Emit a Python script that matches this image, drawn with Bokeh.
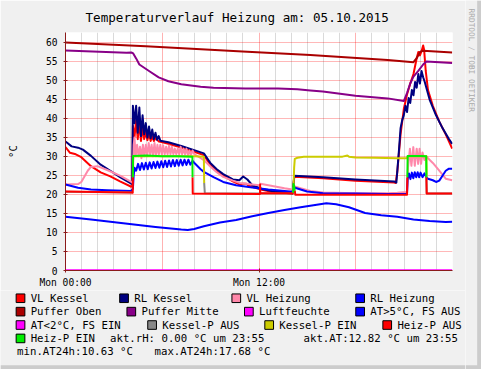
import math
from bokeh.plotting import figure
from bokeh.layouts import column, row
from bokeh.models import Range1d, FixedTicker
from bokeh.core.properties import value
from bokeh.embed import file_html
from bokeh.resources import INLINE

NaN = float("nan")

# ---------------- data: hours since Mon 00:00, values in °C ----------------
vl_kessel_h = [0.00, 0.28, 0.58, 0.98, 1.58, 2.18, 2.78, 3.38, 4.08, 4.14, 4.18, 4.28, 4.38, 4.48, 4.58,
               4.68, 4.78, 4.88, 4.98, 5.08, 5.18, 5.28, 5.38, 5.48, 5.58, 5.78, 5.88, 6.38, 7.18, 7.98,
               8.58, 8.98, 9.38, 9.78, 10.38, 10.78, 10.98, 11.22, 11.34, 11.58, 12.18, 12.78, 13.58,
               14.08, 14.19, 15.98, 17.98, 20.38, 20.48, 20.58, 20.78, 20.98, 21.18, 21.38, 21.58, 21.78,
               21.88, 21.98, 22.08, 22.18, 22.24, 22.34, 22.48, 22.78, 23.18, 23.58, 23.98]
vl_kessel_v = [32.4, 30.9, 30.6, 29.75, 27.4, 25.75, 24.7, 23.4, 22.0, 22.3, 38.0, 35.0, 39.5, 34.5, 39.0,
               34.0, 37.5, 34.5, 36.5, 34.2, 36.0, 34.0, 35.2, 34.0, 34.8, 33.9, 33.8, 33.3, 32.3, 31.2,
               30.3, 27.8, 26.0, 24.9, 23.4, 22.6, 22.8, 22.8, 22.3, 22.0, 21.2, 20.7, 20.4,
               20.1, 24.6, 24.2, 23.6, 23.1, 23.0, 26.0, 35.75, 42.4, 46.2, 49.1, 51.6, 55.75,
               57.4, 56.5, 57.6, 59.1, 58.0, 52.4, 47.4, 43.25, 39.1, 35.75, 32.0]

rl_kessel_h = [0.00, 0.38, 0.78, 1.08, 1.58, 2.18, 2.78, 3.38, 4.08, 4.14, 4.18, 4.28, 4.38, 4.48, 4.58,
               4.68, 4.78, 4.88, 4.98, 5.08, 5.18, 5.28, 5.38, 5.48, 5.58, 5.68, 5.78, 5.88, 6.38, 7.18,
               7.98, 8.58, 8.98, 9.38, 9.78, 10.38, 10.78, 11.02, 11.28, 11.58, 12.18, 12.78, 13.58,
               14.08, 14.19, 15.98, 17.98, 20.38, 20.52, 20.68, 20.78, 20.88, 20.98, 21.08, 21.18,
               21.28, 21.38, 21.48, 21.58, 21.68, 21.78, 21.88, 21.98, 22.08, 22.18, 22.28, 22.58,
               22.98, 23.38, 23.78, 23.98]
rl_kessel_v = [33.9, 32.6, 32.25, 31.75, 30.1, 27.8, 26.2, 24.5, 22.8, 23.5, 43.25, 38.7, 43.25, 36.2, 42.8,
               35.3, 40.75, 35.75, 38.7, 34.9, 37.8, 34.7, 37.0, 34.5, 36.2, 34.3, 35.3, 34.1, 33.7, 32.7,
               31.6, 30.75, 28.25, 26.6, 25.3, 23.9, 23.7, 24.7, 23.9, 22.4, 21.4, 20.9, 20.6,
               20.3, 24.9, 24.5, 23.9, 23.4, 23.1, 31.6, 37.4, 39.5, 40.75, 43.25, 41.6,
               45.3, 44.0, 47.4, 46.0, 49.5, 48.0, 51.6, 49.1, 52.4, 50.75, 49.5, 44.9,
               40.75, 37.4, 34.5, 33.25]

vl_heizung_h = [0.00, 0.78, 0.98, 1.38, 1.58, 1.98, 2.58, 3.38, 4.08, 4.17, 4.23, 4.28, 4.35, 4.44, 4.53,
                4.62, 4.71, 4.80, 4.89, 4.98, 5.07, 5.16, 5.25, 5.34, 5.43, 5.52, 5.61, 5.70, 5.79, 5.88,
                5.97, 6.06, 6.15, 6.24, 6.33, 6.42, 6.51, 6.60, 6.69, 6.78, 6.87, 6.96, 7.05, 7.14, 7.23,
                7.32, 7.41, 7.50, 7.59, 7.68, 7.77, 7.88, 7.98, 8.58, 8.98, 9.38, 9.78, 10.38, 10.78,
                11.58, 12.06, 12.09, 12.58, 13.58, 14.16, 14.22, 14.58, 15.18, 15.98, 17.98, 19.98,
                20.58, 21.18, 21.24, 21.36, 21.45, 21.57, 21.66, 21.78, 21.87, 21.96, 22.05, 22.14,
                22.26, 22.38, 22.48, 22.78, 23.18, 23.58, 23.98]
vl_heizung_v = [22.6, 22.7, 23.25, 26.2, 27.2, 27.4, 26.4, 24.9, 23.25, 23.0, 33.0, 34.9, 30.0, 33.0, 30.0,
                32.5, 29.5, 33.0, 30.0, 33.0, 30.0, 33.5, 30.5, 33.0, 30.0, 33.5, 30.0, 33.0, 30.5, 33.0,
                30.5, 32.8, 30.5, 32.5, 30.5, 32.8, 30.5, 32.5, 30.5, 32.0, 30.5, 32.0, 30.5, 32.5, 30.5,
                32.0, 30.5, 32.0, 30.3, 31.5, 30.3, 31.5, 30.6, 29.0, 27.3, 25.8, 24.6, 23.6, 23.0,
                22.6, 22.4, 22.8, 22.4, 21.6, 21.2, 22.1, 21.6, 20.9, 20.5, 20.3, 20.3,
                20.4, 20.6, 27.0, 32.0, 27.5, 32.4, 27.5, 32.0, 28.0, 32.0, 28.0, 31.0,
                29.0, 30.0, 29.5, 28.25, 26.2, 24.1, 23.7]

rl_heizung_h = [0.00, 0.78, 1.58, 2.58, 4.08, 4.18, 4.23, 4.28, 4.38, 4.50, 4.62, 4.74, 4.86, 4.98, 5.10,
                5.22, 5.34, 5.46, 5.58, 5.70, 5.82, 5.94, 6.06, 6.18, 6.30, 6.42, 6.54, 6.66, 6.78, 6.90,
                7.02, 7.14, 7.26, 7.38, 7.50, 7.62, 7.74, 7.88, 7.98, 8.38, 8.58, 9.18, 9.78, 10.58,
                11.58, 12.58, 13.58, 14.10, 14.18, 14.98, 15.98, 17.98, 19.98, 21.18, 21.22, 21.30,
                21.39, 21.48, 21.57, 21.66, 21.75, 21.84, 21.93, 22.02, 22.14, 22.26, 22.38, 22.48,
                22.78, 22.98, 23.18, 23.38, 23.58, 23.78, 23.98]
rl_heizung_v = [22.6, 21.75, 21.3, 21.1, 20.9, 21.5, 25.0, 27.0, 26.2, 28.0, 26.4, 28.2, 26.5, 28.3, 26.6,
                28.4, 26.8, 28.5, 26.9, 28.6, 27.0, 28.7, 27.1, 28.8, 27.2, 28.9, 27.3, 29.0, 27.4, 29.0,
                27.5, 29.1, 27.6, 29.1, 27.7, 29.1, 27.8, 28.8, 28.3, 26.6, 25.9, 24.5, 23.25, 22.4,
                21.8, 21.3, 20.9, 20.7, 21.8, 20.75, 20.3, 20.2, 20.1, 20.1, 24.1, 25.5,
                24.0, 25.7, 24.2, 25.8, 24.5, 25.8, 24.5, 25.7, 24.5, 25.5, 24.5, 24.1,
                23.7, 23.25, 23.6, 24.9, 26.2, 26.75, 26.75]

puffer_oben_h = [0.00, 4.98, 10.98, 15.18, 19.98, 21.58, 21.78, 21.98, 22.18, 23.98]
puffer_oben_v = [59.9, 58.9, 57.5, 56.6, 55.3, 54.7, 55.75, 57.4, 57.7, 57.25]

puffer_mitte_h = [0.00, 3.78, 4.08, 4.20, 4.38, 4.58, 5.18, 5.78, 6.38, 7.18, 8.38, 9.18, 11.16, 13.18,
                  14.38, 15.18, 15.96, 17.98, 19.98, 20.98, 21.18, 21.38, 21.58, 21.88, 22.18, 22.38, 23.98]
puffer_mitte_v = [57.8, 57.2, 57.25, 57.0, 55.7, 54.1, 52.4, 50.7, 49.7, 48.9, 48.25, 48.0, 47.8, 47.8,
                  47.6, 47.3, 47.0, 45.9, 45.2, 44.5, 46.6, 49.1, 50.9, 52.4, 54.1, 54.9, 54.5]

luftfeuchte_h = [0.00, 23.98]
luftfeuchte_v = [0.0, 0.0]

at_h = [0.00, 1.58, 3.58, 5.58, 7.18, 7.58, 7.98, 8.58, 9.58, 10.58, 11.58, 12.58, 13.58, 14.58, 15.58,
        16.18, 16.78, 17.58, 18.58, 19.58, 20.58, 21.58, 22.58, 23.58, 23.98]
at_v = [14.1, 13.4, 12.4, 11.4, 10.75, 10.63, 10.9, 11.6, 12.6, 13.25, 14.25, 15.1, 15.9, 16.6, 17.25,
        17.68, 17.4, 16.6, 15.1, 14.5, 14.1, 13.4, 13.0, 12.75, 12.82]

at_kalt_h = [0.00, 23.98]
at_kalt_v = [0.0, 0.0]

kessel_p_aus_h = [0.00, 4.17, NaN, 8.60, 8.64, 14.10, 14.12, NaN, 22.38, 22.40, 23.98]
kessel_p_aus_v = [20.7, 20.5, NaN, 23.0, 20.3, 20.2, 22.0, NaN, 25.0, 20.2, 20.2]

kessel_p_ein_h = [4.18, 4.19, 6.00, 8.00, 8.58, 8.60, NaN, 14.14, 14.18, 14.22, 14.38, 14.78, 15.98,
                  17.18, 17.48, 17.58, 17.98, 19.18, 20.58, 21.18, 21.22, 22.00, 22.38, 22.40]
kessel_p_ein_v = [24.5, 30.0, 30.0, 30.0, 29.9, 23.0, NaN, 22.0, 27.0, 29.3, 29.6, 29.9, 29.9,
                  29.9, 30.2, 29.9, 29.7, 29.6, 29.5, 29.5, 30.0, 30.0, 30.0, 25.0]

heiz_p_aus_h = [0.00, 4.08, 4.17, 4.18, NaN, 7.88, 7.89, 12.06, 12.07, 12.08, 14.10, 14.12, NaN,
                14.22, 14.25, 21.18, 21.20, NaN, 22.38, 22.40, 23.98]
heiz_p_aus_v = [20.75, 20.5, 20.4, 24.5, NaN, 24.5, 20.2, 20.1, 22.6, 20.3, 20.3, 20.4, NaN,
                21.0, 19.9, 19.9, 24.5, NaN, 24.5, 20.2, 20.2]

heiz_p_ein_h = [4.18, 4.19, 5.00, 6.00, 7.00, 7.87, 7.88, NaN, 14.12, 14.14, 14.18, 14.22, NaN,
                21.20, 21.22, 22.00, 22.37, 22.38]
heiz_p_ein_v = [24.5, 30.1, 30.2, 30.0, 30.0, 29.9, 24.5, NaN, 20.4, 22.7, 22.2, 21.0, NaN,
                24.5, 30.1, 30.1, 30.0, 24.5]

legend_names = ["VL Kessel", "RL Kessel", "VL Heizung", "RL Heizung",
                "Puffer Oben", "Puffer Mitte", "Luftfeuchte", "AT>5°C, FS AUS",
                "AT<2°C, FS EIN", "Kessel-P AUS", "Kessel-P EIN", "Heiz-P AUS",
                "Heiz-P EIN"]
legend_colors = ["#FF0000", "#000080", "#FF88AA", "#0000FF",
                 "#AA0000", "#880088", "#FF00FF", "#0000FF",
                 "#FF00FF", "#888888", "#CCCC00", "#FF0000",
                 "#00EE00"]
info_texts = ["akt.rH: 0.00 °C um 23:55", "akt.AT:12.82 °C um 23:55",
              "min.AT24h:10.63 °C", "max.AT24h:17.68 °C"]

x_tick_pos = [0, 12]
x_tick_labels = ["Mon 00:00", "Mon 12:00"]
y_ticks = [0, 5, 10, 15, 20, 25, 30, 35, 40, 45, 50, 55, 60]
title_text = "Temperaturverlauf Heizung am: 05.10.2015"
unit_text = "°C"
credit_text = "RRDTOOL / TOBI OETIKER"

series = [
    (vl_kessel_h, vl_kessel_v), (rl_kessel_h, rl_kessel_v),
    (vl_heizung_h, vl_heizung_v), (rl_heizung_h, rl_heizung_v),
    (puffer_oben_h, puffer_oben_v), (puffer_mitte_h, puffer_mitte_v),
    (luftfeuchte_h, luftfeuchte_v), (at_h, at_v), (at_kalt_h, at_kalt_v),
    (kessel_p_aus_h, kessel_p_aus_v), (kessel_p_ein_h, kessel_p_ein_v),
    (heiz_p_aus_h, heiz_p_aus_v), (heiz_p_ein_h, heiz_p_ein_v),
]

# ---------------- layout (reference 497x385 scaled into 481x369) ----------------
FONT = "DejaVu Sans Mono"
AX = "#8B1A1A"
BG = "#F0F0F0"
EDGE = "#CCCCCC"

p = figure(width=465, height=290, output_backend="svg", toolbar_location=None,
           x_range=Range1d(0, 24), y_range=Range1d(0, 62.5),
           min_border_left=65, min_border_right=13, min_border_top=32, min_border_bottom=19)
p.frame_align = False
p.border_fill_color = BG
p.background_fill_color = "#FFFFFF"
p.outline_line_color = None

p.title.text = title_text
p.title.align = "left"
p.title.offset = 20
p.title.standoff = 15
p.title.text_font = FONT
p.title.text_font_size = "12.6px"
p.title.text_font_style = "normal"
p.title.text_color = "#000000"

p.xgrid.ticker = FixedTicker(ticks=[0, 6, 12, 18, 24],
                             minor_ticks=[h for h in range(1, 24) if h % 6 != 0])
p.xgrid.grid_line_color = "#FF0000"
p.xgrid.grid_line_alpha = 0.3
p.xgrid.minor_grid_line_color = "#DADADA"
p.ygrid.ticker = FixedTicker(ticks=y_ticks)
p.ygrid.grid_line_color = "#FF0000"
p.ygrid.grid_line_alpha = 0.28

p.xaxis.ticker = FixedTicker(ticks=x_tick_pos)
p.xaxis.major_label_overrides = {t: s for t, s in zip(x_tick_pos, x_tick_labels)}
p.yaxis.ticker = FixedTicker(ticks=y_ticks)
p.yaxis.major_label_overrides = {t: str(t) for t in y_ticks}
for ax in (p.xaxis, p.yaxis):
    ax.axis_line_color = AX
    ax.major_tick_line_color = AX
    ax.minor_tick_line_color = None
    ax.major_tick_in = 2
    ax.major_tick_out = 2
    ax.major_label_text_font = FONT
    ax.major_label_text_font_size = "9.6px"
    ax.major_label_text_color = "#000000"
p.yaxis.major_label_standoff = 6
p.xaxis.major_label_standoff = 4
p.yaxis.axis_label = unit_text
p.yaxis.axis_label_text_font = FONT
p.yaxis.axis_label_text_font_size = "10.6px"
p.yaxis.axis_label_text_font_style = "normal"
p.yaxis.axis_label_text_color = "#000000"
p.yaxis.axis_label_standoff = 24

for (hs, vs), col in zip(series, legend_colors):
    p.line(hs, vs, line_color=col, line_width=2, line_join="round")

# ---------------- legend panel (coordinates in reference pixels) ----------------
leg = figure(width=465, height=79, output_backend="svg", toolbar_location=None,
             x_range=Range1d(-0.18, 480.4), y_range=Range1d(385.5, 302.9),
             x_axis_location=None, y_axis_location=None,
             min_border_left=0, min_border_right=0, min_border_top=0, min_border_bottom=0)
leg.frame_align = False
leg.grid.visible = False
leg.outline_line_color = None
leg.background_fill_color = BG
leg.border_fill_color = BG

legend_text_x = [31, 138, 254, 382, 31, 145.5, 267, 382, 31, 167, 288, 410, 31]
legend_row_y = [311, 311, 311, 311, 325, 325, 325, 325, 339, 339, 339, 339, 353]
info_x = [113, 313, 17, 159]
info_y = [353, 353, 367, 367]

leg.quad(left=[x - 15 for x in legend_text_x], right=[x - 6 for x in legend_text_x],
         top=[y - 4.5 for y in legend_row_y], bottom=[y + 4.5 for y in legend_row_y],
         fill_color=legend_colors, line_color="#000000", line_width=1)
leg.text(x=legend_text_x, y=legend_row_y, text=legend_names, text_font=value(FONT),
         text_font_size="10.7px", text_baseline="middle", text_align="left", text_color="#000000")
leg.text(x=info_x, y=info_y, text=info_texts, text_font=value(FONT),
         text_font_size="10.7px", text_baseline="middle", text_align="left", text_color="#000000")
leg.quad(left=[-0.18], right=[480.4], top=[381], bottom=[385.5], fill_color=EDGE, line_color=None)

# ---------------- right strip with the vertical credit text ----------------
cred = figure(width=16, height=369, output_backend="svg", toolbar_location=None,
              x_range=Range1d(480.4, 497.0), y_range=Range1d(385.5, -0.47),
              x_axis_location=None, y_axis_location=None,
              min_border_left=0, min_border_right=0, min_border_top=0, min_border_bottom=0)
cred.frame_align = False
cred.grid.visible = False
cred.outline_line_color = None
cred.background_fill_color = BG
cred.border_fill_color = BG
cred.quad(left=[492.5], right=[497.0], top=[-0.47], bottom=[385.5], fill_color=EDGE, line_color=None)
cred.quad(left=[480.4], right=[497.0], top=[381], bottom=[385.5], fill_color=EDGE, line_color=None)
cred.text(x=[487], y=[8], text=[credit_text], angle=-math.pi / 2, text_font=value(FONT),
          text_font_size="7.8px", text_baseline="middle", text_align="left", text_color="#AAAAAA")

layout = row(column(p, leg, spacing=0), cred, spacing=0)
open("out.html", "w").write(file_html(layout, INLINE))
